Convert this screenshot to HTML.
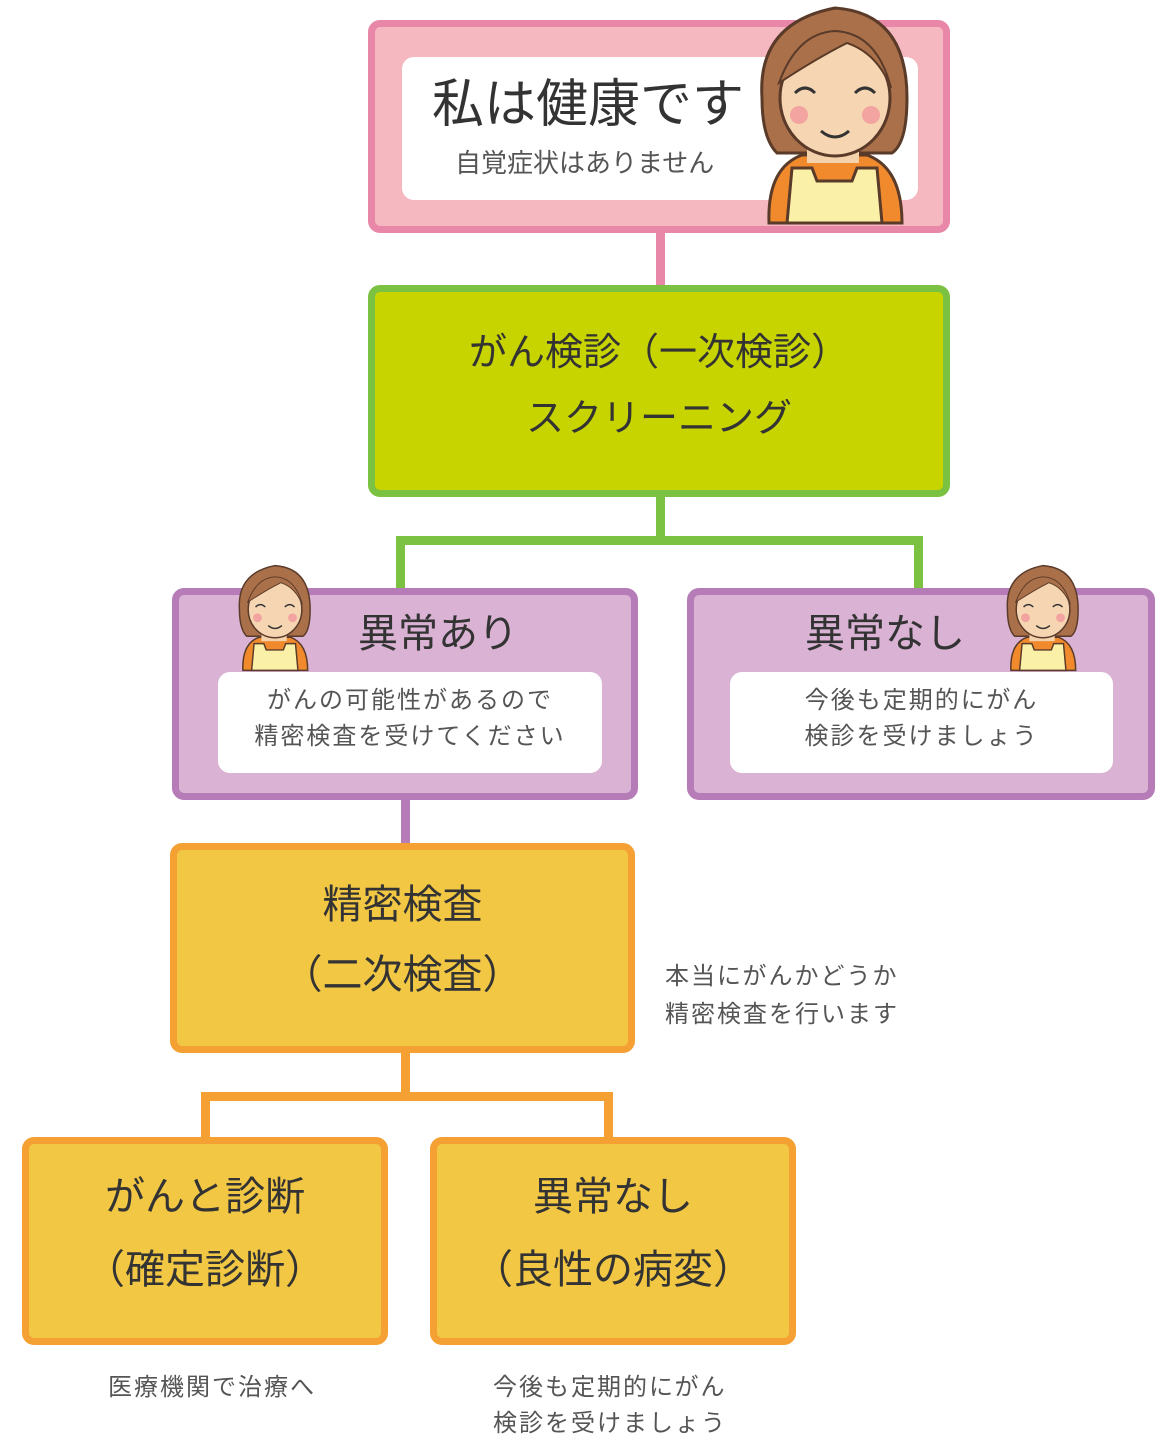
<!DOCTYPE html>
<html><head><meta charset="utf-8">
<style>
body{margin:0;background:#fff;width:1170px;height:1448px;position:relative;overflow:hidden;font-family:"Liberation Sans","Noto Sans CJK JP",sans-serif;color:#333}
.a{position:absolute;box-sizing:border-box}
.t{position:absolute;white-space:nowrap;text-align:center;line-height:1}
.s{letter-spacing:2px}
</style></head><body>
<svg width="0" height="0" style="position:absolute">
<defs>
<g id="girl">
<path d="M5 95 Q0 20 78 5 Q150 10 150 95 Q150 140 135 150 L20 150 Q5 135 5 95Z" fill="#a9704a" stroke="#5a3a28" stroke-width="3"/>
<path d="M12 220 Q10 165 45 152 L110 152 Q145 165 145 220Z" fill="#f08a2c" stroke="#5a3a28" stroke-width="3"/>
<rect x="50" y="120" width="52" height="40" fill="#f3d2ac"/>
<path d="M30 220 L35 165 L55 165 L60 178 L95 178 L100 165 L120 165 L125 220Z" fill="#fbf0a8" stroke="#5a3a28" stroke-width="3"/>
<ellipse cx="78" cy="95" rx="55" ry="58" fill="#f6d6b2" stroke="#5a3a28" stroke-width="3"/>
<path d="M22 80 Q40 30 78 28 Q120 30 134 85 Q120 50 90 40 Q60 55 22 80Z" fill="#a9704a" stroke="#5a3a28" stroke-width="2"/>
<path d="M38 90 Q48 80 58 90 M98 90 Q108 80 118 90" fill="none" stroke="#333" stroke-width="3"/>
<circle cx="42" cy="112" r="9" fill="#f3a3a0"/><circle cx="114" cy="112" r="9" fill="#f3a3a0"/>
<path d="M64 128 Q78 140 92 128" fill="none" stroke="#333" stroke-width="3"/>
</g>
</defs>
</svg>

<div class="a" style="left:656px;top:230px;width:9px;height:60px;background:#e887a8"></div>
<div class="a" style="left:656px;top:494px;width:9px;height:50px;background:#7cc242"></div>
<div class="a" style="left:396px;top:536px;width:527px;height:9px;background:#7cc242"></div>
<div class="a" style="left:396px;top:536px;width:9px;height:56px;background:#7cc242"></div>
<div class="a" style="left:914px;top:536px;width:9px;height:56px;background:#7cc242"></div>
<div class="a" style="left:401px;top:797px;width:9px;height:50px;background:#b57cb8"></div>
<div class="a" style="left:401px;top:1050px;width:9px;height:50px;background:#f5a033"></div>
<div class="a" style="left:201px;top:1092px;width:412px;height:9px;background:#f5a033"></div>
<div class="a" style="left:201px;top:1092px;width:9px;height:48px;background:#f5a033"></div>
<div class="a" style="left:604px;top:1092px;width:9px;height:48px;background:#f5a033"></div>

<div class="a" style="left:368px;top:20px;width:582px;height:213px;border:7px solid #e887a8;background:#f5b8c0;border-radius:12px"></div>
<div class="a" style="left:402px;top:57px;width:516px;height:143px;background:#fff;border-radius:12px"></div>
<div class="t" style="left:432px;top:79px;font-size:52px">私は健康です</div>
<div class="t" style="left:455px;top:150px;font-size:26px;color:#555">自覚症状はありません</div>
<svg class="a" style="left:757px;top:3px" width="160" height="225" viewBox="0 0 160 225"><use href="#girl"/></svg>

<div class="a" style="left:368px;top:285px;width:582px;height:212px;border:7px solid #7cc242;background:#c8d400;border-radius:12px"></div>
<div class="t" style="left:368px;width:582px;top:334px;font-size:38px">がん検診（一次検診）</div>
<div class="t" style="left:368px;width:582px;top:400px;font-size:38px">スクリーニング</div>

<div class="a" style="left:172px;top:588px;width:466px;height:212px;border:7px solid #b57cb8;background:#d9b2d4;border-radius:12px"></div>
<div class="a" style="left:218px;top:672px;width:384px;height:101px;background:#fff;border-radius:12px"></div>
<div class="t" style="left:358px;top:614px;font-size:40px">異常あり</div>
<div class="t s" style="left:218px;width:384px;top:689px;font-size:24px;color:#555">がんの可能性があるので</div>
<div class="t s" style="left:218px;width:384px;top:725px;font-size:24px;color:#555">精密検査を受けてください</div>
<svg class="a" style="left:237px;top:563px" width="78" height="110" viewBox="0 0 160 225"><use href="#girl"/></svg>

<div class="a" style="left:687px;top:588px;width:468px;height:212px;border:7px solid #b57cb8;background:#d9b2d4;border-radius:12px"></div>
<div class="a" style="left:730px;top:672px;width:383px;height:101px;background:#fff;border-radius:12px"></div>
<div class="t" style="left:805px;top:614px;font-size:40px">異常なし</div>
<div class="t s" style="left:730px;width:383px;top:689px;font-size:24px;color:#555">今後も定期的にがん</div>
<div class="t s" style="left:730px;width:383px;top:725px;font-size:24px;color:#555">検診を受けましょう</div>
<svg class="a" style="left:1005px;top:563px" width="78" height="110" viewBox="0 0 160 225"><use href="#girl"/></svg>

<div class="a" style="left:170px;top:843px;width:465px;height:210px;border:7px solid #f5a033;background:#f2c744;border-radius:12px"></div>
<div class="t" style="left:170px;width:465px;top:885px;font-size:40px">精密検査</div>
<div class="t" style="left:170px;width:465px;top:955px;font-size:40px">（二次検査）</div>
<div class="t s" style="left:665px;top:965px;font-size:24px;color:#555;text-align:left">本当にがんかどうか</div>
<div class="t s" style="left:665px;top:1003px;font-size:24px;color:#555;text-align:left">精密検査を行います</div>

<div class="a" style="left:22px;top:1137px;width:366px;height:208px;border:7px solid #f5a033;background:#f2c744;border-radius:12px"></div>
<div class="t" style="left:22px;width:366px;top:1177px;font-size:40px">がんと診断</div>
<div class="t" style="left:22px;width:366px;top:1250px;font-size:40px">（確定診断）</div>
<div class="a" style="left:430px;top:1137px;width:366px;height:208px;border:7px solid #f5a033;background:#f2c744;border-radius:12px"></div>
<div class="t" style="left:430px;width:366px;top:1177px;font-size:40px">異常なし</div>
<div class="t" style="left:430px;width:366px;top:1250px;font-size:40px">（良性の病変）</div>

<div class="t s" style="left:108px;top:1376px;font-size:24px;color:#555">医療機関で治療へ</div>
<div class="t s" style="left:493px;top:1376px;font-size:24px;color:#555">今後も定期的にがん</div>
<div class="t s" style="left:493px;top:1412px;font-size:24px;color:#555">検診を受けましょう</div>
</body></html>
